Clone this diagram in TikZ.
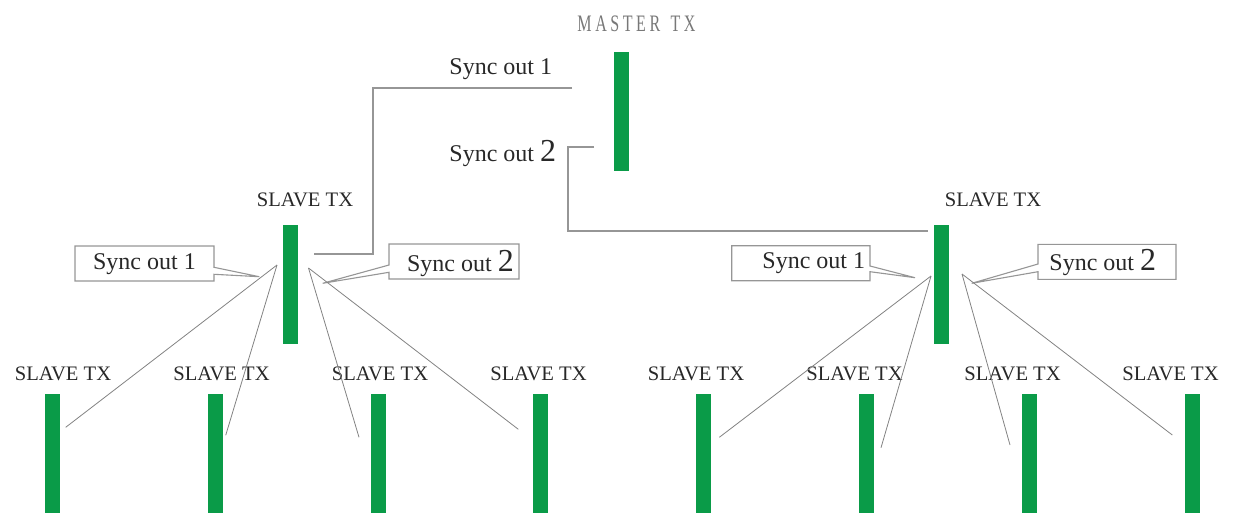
\documentclass[tikz,border=0pt]{standalone}
\usepackage{fontspec}
\setmainfont{Liberation Serif}
\usepackage{graphicx}
\definecolor{bargreen}{RGB}{10,155,72}
\definecolor{linegray}{RGB}{150,150,150}
\definecolor{fangray}{RGB}{130,130,130}
\definecolor{txt}{RGB}{40,40,40}
\definecolor{mastertxt}{RGB}{120,120,120}
\newcommand{\mk}{\kern2.6pt}
\begin{document}
\begin{tikzpicture}[x=0.5pt,y=-0.5pt,
  txbar/.style={rectangle,fill=bargreen,draw=none,inner sep=0pt,minimum width=7.5pt,minimum height=59.5pt},
  slavelbl/.style={font=\fontsize{10.3}{12}\selectfont,text=txt,inner sep=0pt,anchor=base},
  synclbl/.style={font=\fontsize{12}{14}\selectfont,text=txt,inner sep=0pt,anchor=base west},
  wire/.style={draw=linegray,line width=0.55pt},
  fan/.style={draw=fangray,line width=0.4pt},
  callbox/.style={draw=linegray,line width=0.55pt,fill=white}
]
\useasboundingbox (0,0) rectangle (1234,514);

% master
\node[txbar] (master) at (621.5,111.5) {};
\node[font=\fontsize{11.8}{12}\selectfont,text=mastertxt,inner sep=0pt] (mlbl) at (636.5,23.5) {\scalebox{0.68}[1]{M\mk A\mk S\mk T\mk E\mk R\mk\kern5pt T\mk X}};
\node[synclbl] (mso1) at (449,74.5) {Sync out 1};
\node[synclbl] (mso2) at (449,161) {Sync out {\fontsize{16}{16}\selectfont 2}};

% first level slaves
\node[txbar] (sl) at (290.5,284.5) {};
\node[txbar] (sr) at (941.5,284.5) {};
\node[slavelbl] (sllbl) at (305,206.7) {SLAVE TX};
\node[slavelbl] (srlbl) at (993,206.7) {SLAVE TX};

% master wires
\coordinate (m1a) at (572,88);
\coordinate (m1b) at (373,88);
\coordinate (m1c) at (373,254);
\coordinate (m1d) at (314,254);
\draw[wire] (m1a) -- (m1b) -- (m1c) -- (m1d);
\coordinate (m2a) at (594,147);
\coordinate (m2b) at (568,147);
\coordinate (m2c) at (568,231);
\coordinate (m2d) at (928,231);
\draw[wire] (m2a) -- (m2b) -- (m2c) -- (m2d);

% callouts
\draw[callbox] (75,246) -- (214,246) -- (214,267.3) -- (259.3,276.7) -- (214,274.3) -- (214,281) -- (75,281) -- cycle;
\node[synclbl] (lso1) at (92.7,269.3) {Sync out 1};
\draw[callbox] (389,244) -- (519,244) -- (519,279) -- (389,279) -- (389,272.3) -- (322.7,283.3) -- (389,265) -- cycle;
\node[synclbl] (lso2) at (406.7,271.7) {Sync out {\fontsize{16}{16}\selectfont 2}};
\draw[callbox] (731.7,245.7) -- (870,245.7) -- (870,266) -- (915,277.7) -- (870,271.7) -- (870,280.7) -- (731.7,280.7) -- cycle;
\node[synclbl] (rso1) at (762,268.3) {Sync out 1};
\draw[callbox] (1038,244.3) -- (1176,244.3) -- (1176,279.3) -- (1038,279.3) -- (1038,271.7) -- (971.7,283.3) -- (1038,264) -- cycle;
\node[synclbl] (rso2) at (1049,270.7) {Sync out {\fontsize{16}{16}\selectfont 2}};

% bottom slaves
\foreach \i/\bx/\lx in {1/52.5/63, 2/215.2/221.5, 3/378.2/380, 4/540.8/538.5, 5/703.5/696, 6/866.5/854.5, 7/1029.2/1012.5, 8/1192.2/1170.5}{
  \node[txbar] (b\i) at (\bx,453.5) {};
  \node[slavelbl] (bl\i) at (\lx,380) {SLAVE TX};
}

% fan lines
\coordinate (fl1) at (277,265);
\coordinate (fl2) at (308.5,268);
\coordinate (fr1) at (931,276);
\coordinate (fr2) at (962,274);
\coordinate (e1) at (65.7,427.3);
\coordinate (e2) at (225.7,435.3);
\coordinate (e3) at (359,437.3);
\coordinate (e4) at (518.3,429.3);
\coordinate (e5) at (719.3,437.3);
\coordinate (e6) at (881,447.7);
\coordinate (e7) at (1010,445);
\coordinate (e8) at (1172.3,435);
\draw[fan] (fl1) -- (e1);
\draw[fan] (fl1) -- (e2);
\draw[fan] (fl2) -- (e3);
\draw[fan] (fl2) -- (e4);
\draw[fan] (fr1) -- (e5);
\draw[fan] (fr1) -- (e6);
\draw[fan] (fr2) -- (e7);
\draw[fan] (fr2) -- (e8);
\end{tikzpicture}
\end{document}
